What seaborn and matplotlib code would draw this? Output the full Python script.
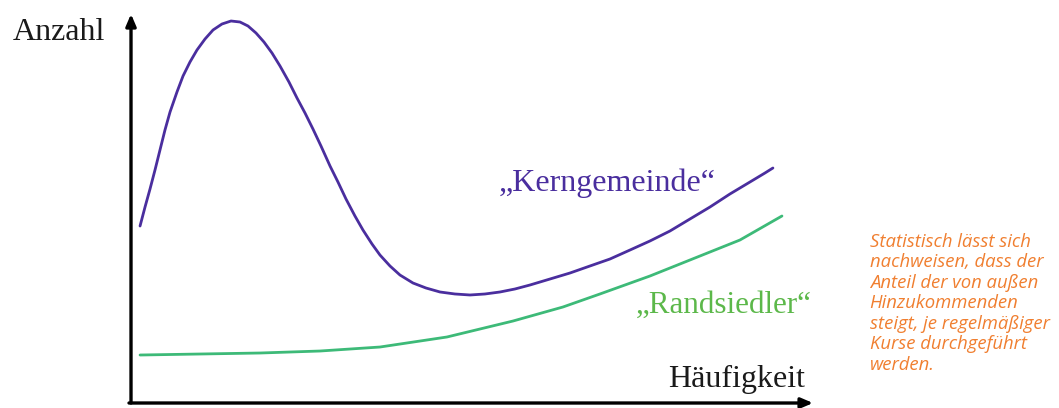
import numpy as np
import pandas as pd
import matplotlib
matplotlib.use("Agg")
import matplotlib.pyplot as plt
import seaborn as sns

# --- data (conceptual curves, x = Häufigkeit 0..100, y = Anzahl 0..100) ---
kern_x = [1.34, 2.08, 2.82, 3.56, 4.30, 5.04, 5.79, 6.82, 7.72, 8.75, 9.79, 10.98, 12.17,
          13.50, 14.84, 16.17, 17.36, 18.55, 19.73, 20.92, 22.11, 23.44, 24.63, 25.82,
          27.00, 28.19, 29.53, 30.71, 31.90, 33.23, 34.42, 35.76, 36.94, 38.43, 39.91,
          41.84, 43.77, 45.85, 48.07, 50.30, 52.52, 54.75, 56.97, 59.20, 62.17, 65.13,
          68.10, 71.07, 74.04, 77.00, 79.97, 82.94, 85.91, 88.87, 91.84, 94.07, 95.25]
kern_y = [46.09, 51.04, 55.73, 60.68, 65.89, 71.09, 75.78, 80.99, 85.16, 88.80, 91.93, 94.79,
          97.14, 98.70, 99.48, 99.22, 98.18, 96.35, 94.01, 91.15, 87.76, 83.59, 79.43, 75.52,
          71.35, 66.93, 61.72, 57.55, 53.13, 48.70, 45.05, 41.41, 38.54, 35.68, 33.33,
          31.25, 29.95, 28.91, 28.39, 28.13, 28.39, 28.91, 29.69, 30.73, 32.29, 33.85,
          35.68, 37.50, 39.84, 42.19, 44.79, 47.92, 51.04, 54.43, 57.55, 59.90, 61.20]
rand_x = [1.34, 10.24, 19.14, 28.04, 36.94, 46.88, 56.68, 64.09, 69.58, 77.00, 84.42, 90.36, 96.59]
rand_y = [12.50, 12.76, 13.02, 13.54, 14.58, 17.19, 21.35, 25.00, 28.39, 33.07, 38.28, 42.45, 48.70]

series_names = ["\u201eKerngemeinde\u201c", "\u201eRandsiedler\u201c"]
x_label = "Häufigkeit"
y_label = "Anzahl"
note_lines = ["Statistisch lässt sich", "nachweisen, dass der", "Anteil der von außen",
              "Hinzukommenden", "steigt, je regelmäßiger", "Kurse durchgeführt", "werden."]

BLUE = "#4a2e9e"
GREEN = "#3dba78"
GREEN_TXT = "#5cb84a"
ORANGE = "#f07f30"

df = pd.concat([
    pd.DataFrame({"x": kern_x, "y": kern_y, "serie": series_names[0]}),
    pd.DataFrame({"x": rand_x, "y": rand_y, "serie": series_names[1]}),
])

sns.set_style("white")
plt.rcParams["font.family"] = ["Liberation Serif", "DejaVu Serif"]

fig = plt.figure(figsize=(10.59, 4.08), dpi=100)
ax = fig.add_axes([0, 0, 1, 1])
sns.lineplot(data=df, x="x", y="y", hue="serie", palette=[BLUE, GREEN],
             linewidth=2.0, sort=False, legend=False, ax=ax)
for l in ax.get_lines():
    l.set_solid_joinstyle("round")
    l.set_solid_capstyle("round")

ax.set_xlim(-19.44, 137.7)
ax.set_ylim(-1.30, 104.95)
ax.axis("off")

# axes with arrows
arrow = dict(arrowstyle="-|>,head_length=0.7,head_width=0.3", color="black", lw=2.4,
             shrinkA=0, shrinkB=0)
ax.annotate("", xy=(0, 101.3), xytext=(0, 0), arrowprops=arrow)
ax.annotate("", xy=(101.2, 0), xytext=(-0.3, 0), arrowprops=arrow)

ax.text(-17.6, 96.5, y_label, fontsize=23, color="#1a1a1a", ha="left", va="center")
ax.text(100.0, 6.0, x_label, fontsize=23, color="#1a1a1a", ha="right", va="center")
ax.text(54.6, 57.3, series_names[0], fontsize=23, color=BLUE, ha="left", va="center")
ax.text(74.9, 25.5, series_names[1], fontsize=22.3, color=GREEN_TXT, ha="left", va="center")

for i, line in enumerate(note_lines):
    ax.text(109.6, 42.0 - i * 5.33, line, fontsize=13.3, color=ORANGE, style="italic",
            family=["Open Sans", "DejaVu Sans"], ha="left", va="center")

fig.savefig("out.png", dpi=100, facecolor="white")
